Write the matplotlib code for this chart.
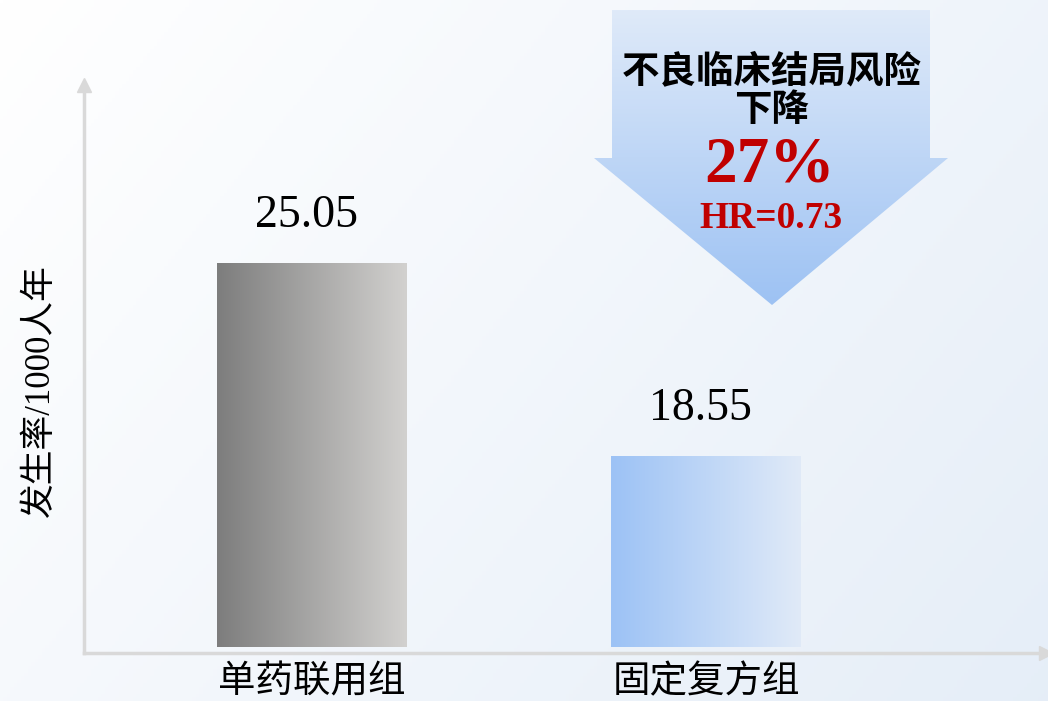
import numpy as np
import matplotlib.pyplot as plt
from matplotlib.patches import Polygon
from matplotlib.colors import LinearSegmentedColormap

groups = ['单药联用组', '固定复方组']
rates = [25.05, 18.55]
base = 12.12          # bars are drawn on a cut axis, as in the original slide
ylabel = '发生率/1000人年'
arrow_title = '不良临床结局风险\n下降'
drop_text = '27%'
hr_text = 'HR=0.73'

W, H = 1048, 701
plt.rcParams['font.family'] = ['Liberation Serif', 'Noto Sans CJK SC', 'DejaVu Sans']

fig = plt.figure(figsize=(W / 100, H / 100), dpi=100)

# background gradient, white top-left to light blue bottom-right
bg = fig.add_axes([0, 0, 1, 1], zorder=0)
bg.axis('off')
yy, xx = np.mgrid[0:1:200j, 0:1:300j]
t = np.clip((xx * 0.65 + yy * 0.35), 0, 1)
c0 = np.array([1.0, 1.0, 1.0])
c1 = np.array([0.90, 0.933, 0.972])
img = c0 + (c1 - c0) * t[..., None]
bg.imshow(img, extent=(0, 1, 0, 1), aspect='auto', origin='upper')
bg.set_xlim(0, 1)
bg.set_ylim(0, 1)

# main axes
ax = fig.add_axes([84 / W, 48 / H, (W - 84) / W, (653 - 88) / H], zorder=1)
ax.patch.set_visible(False)
ax.set_xlim(-0.579, 1.868)
ax.set_ylim(11.92, 30.94)

x = np.arange(len(groups))
bars = ax.bar(x, [r - base for r in rates], bottom=base, width=0.482, color='none')

grey_cm = LinearSegmentedColormap.from_list('g', ['#7d7d7d', '#d2d1cf'])
blue_cm = LinearSegmentedColormap.from_list('b', ['#9cc2f5', '#e0eaf8'])
grad = np.linspace(0, 1, 256).reshape(1, -1)
for b, cm in zip(bars, [grey_cm, blue_cm]):
    x0, y0 = b.get_x(), b.get_y()
    im = ax.imshow(grad, cmap=cm, aspect='auto',
                   extent=(x0, x0 + b.get_width(), y0, y0 + b.get_height()), zorder=2)
    im.set_clip_path(b)

for i, r in enumerate(rates):
    ax.annotate(f'{r:.2f}', (x[i], base + (r - base)), xytext=(-4, 34),
                textcoords='offset points', ha='center', va='center',
                fontsize=33, family='Liberation Serif')

ax.set_xticks(x)
ax.set_xticklabels(groups, fontsize=27, family='Noto Sans CJK SC')
ax.tick_params(axis='x', length=0, pad=7)
ax.set_yticks([])
for s in ['top', 'right']:
    ax.spines[s].set_visible(False)
for s in ['left', 'bottom']:
    ax.spines[s].set_color('#d9d9d9')
    ax.spines[s].set_linewidth(2.5)
ax.plot(0, 1.005, marker='^', ms=10, color='#d9d9d9', transform=ax.transAxes, clip_on=False)
ax.plot(0.998, 0, marker='>', ms=10, color='#d9d9d9', transform=ax.transAxes, clip_on=False)

fig.text(40 / W, 1 - 391 / H, ylabel, rotation=90, ha='center', va='center', fontsize=25)

# big down arrow with the risk reduction
ov = fig.add_axes([0, 0, 1, 1], zorder=3)
ov.set_xlim(0, W)
ov.set_ylim(H, 0)
ov.axis('off')
ov.patch.set_visible(False)
pts = [(612, 10), (930, 10), (930, 158), (948, 158), (772, 305), (594, 158), (612, 158)]
arrow = Polygon(pts, closed=True, facecolor='none', edgecolor='none')
ov.add_patch(arrow)
arrow_cm = LinearSegmentedColormap.from_list('a', ['#dfeaf9', '#9dc2f3'])
vgrad = np.linspace(0, 1, 256).reshape(-1, 1)
aim = ov.imshow(vgrad, cmap=arrow_cm, aspect='auto', extent=(594, 948, 305, 10), origin='upper')
aim.set_clip_path(arrow)
ov.set_xlim(0, W)
ov.set_ylim(H, 0)

ov.text(772, 90, arrow_title, ha='center', va='center', fontsize=27, fontweight='heavy',
        family='Noto Sans CJK SC', linespacing=1.0)
ov.text(770, 165, drop_text, ha='center', va='center', fontsize=47, fontweight='bold',
        color='#c00000', family='Liberation Serif')
ov.text(771, 219, hr_text, ha='center', va='center', fontsize=27, fontweight='bold',
        color='#c00000', family='Liberation Serif')

fig.savefig('out.png', dpi=100)
